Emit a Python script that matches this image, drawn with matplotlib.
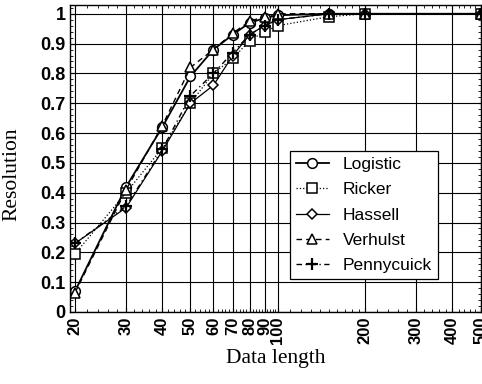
import matplotlib
matplotlib.use("Agg")
import matplotlib.pyplot as plt
import numpy as np
from matplotlib.ticker import FixedLocator, NullFormatter

lengths = [20, 30, 40, 50, 60, 70, 80, 90, 100, 150, 200, 500]
logistic = [0.07, 0.42, 0.62, 0.79, 0.88, 0.93, 0.97, 0.985, 0.995, 1.0, 1.0, 1.0]
ricker = [0.195, 0.40, 0.55, 0.70, 0.80, 0.85, 0.91, 0.94, 0.96, 0.99, 1.0, 1.0]
hassell = [0.23, 0.35, 0.54, 0.70, 0.76, 0.86, 0.93, 0.96, 0.98, 1.0, 1.0, 1.0]
verhulst = [0.065, 0.41, 0.625, 0.82, 0.88, 0.935, 0.975, 0.99, 1.0, 1.0, 1.0, 1.0]
pennycuick = [0.23, 0.355, 0.545, 0.725, 0.80, 0.87, 0.93, 0.96, 0.98, 1.0, 1.0, 1.0]

xticks = [20, 30, 40, 50, 60, 70, 80, 90, 100, 200, 300, 400, 500]
yticks = [0, 0.1, 0.2, 0.3, 0.4, 0.5, 0.6, 0.7, 0.8, 0.9, 1]
ytick_labels = ["0", "0.1", "0.2", "0.3", "0.4", "0.5", "0.6", "0.7", "0.8", "0.9", "1"]

fig = plt.figure(figsize=(4.82, 3.84), dpi=100)
ax = fig.add_axes([0.145, 0.1875, 0.853, 0.80])

series = [
    ("Logistic", logistic, "o", "-", 1.3),
    ("Ricker", ricker, "s", ":", 0.9),
    ("Hassell", hassell, "D", "-", 0.9),
    ("Verhulst", verhulst, "^", (0, (4, 3)), 1.0),
    ("Pennycuick", pennycuick, "+", (0, (4, 2.5, 1, 2.5)), 1.0),
]
for name, vals, mk, ls, lw in series:
    ms = 7 if mk != "D" else 5.5
    if mk == "+":
        ax.plot(lengths, vals, linestyle=ls, color="black", lw=lw,
                marker=mk, ms=8, mew=1.6, label=name)
    else:
        ax.plot(lengths, vals, linestyle=ls, color="black", lw=lw,
                marker=mk, ms=ms, mfc="white", mec="black", mew=1.1,
                label=name)

ax.set_xscale("log")
ax.set_xlim(19.2, 502)
ax.set_ylim(0, 1.03)
minor_x = (list(range(22, 100, 2)) + list(range(110, 200, 10))
           + list(range(220, 500, 20)))
minor_x = [v for v in minor_x if v not in xticks]
ax.xaxis.set_major_locator(FixedLocator(xticks))
ax.xaxis.set_minor_locator(FixedLocator(minor_x))
ax.xaxis.set_minor_formatter(NullFormatter())
ax.yaxis.set_minor_locator(FixedLocator(np.arange(0, 1.03, 0.02)))
ax.set_xticks(xticks)
ax.set_xticklabels([str(t) for t in xticks], rotation=90,
                   fontfamily="Liberation Sans", fontsize=12, fontweight="bold")
ax.set_yticks(yticks)
ax.set_yticklabels(ytick_labels, fontfamily="Liberation Sans",
                   fontsize=13, fontweight="bold")
ax.tick_params(axis="both", which="major", direction="in", length=3,
               width=0.8, pad=3, top=True, right=True)
ax.tick_params(axis="both", which="minor", direction="in", length=2,
               width=0.6, top=True, right=True)
ax.grid(True, which="major", color="black", lw=0.8)

for s in ax.spines.values():
    s.set_linewidth(1.0)

ax.set_xlabel("Data length", fontfamily="Liberation Serif", fontsize=15.5, labelpad=4)
ax.set_ylabel("Resolution", fontfamily="Liberation Serif", fontsize=15.5)
ax.yaxis.set_label_coords(-0.118, 0.45)

leg = ax.legend(loc="lower right", bbox_to_anchor=(0.895, 0.107),
                prop={"family": "Liberation Sans", "size": 12.5},
                frameon=True, fancybox=False, edgecolor="black",
                framealpha=1, handlelength=1.9, labelspacing=0.58,
                borderpad=0.35, handletextpad=0.8, borderaxespad=0)
leg.get_frame().set_linewidth(0.9)

fig.savefig("out.png", dpi=100)
